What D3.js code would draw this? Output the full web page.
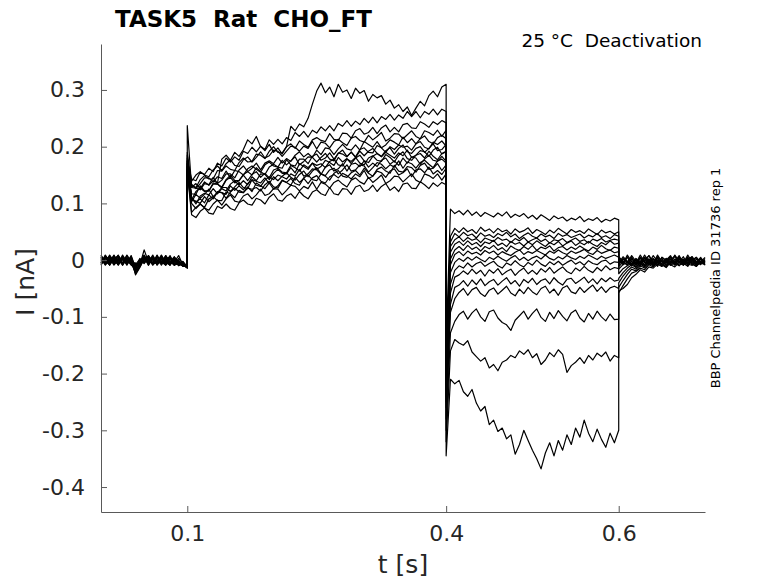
<!DOCTYPE html>
<html>
<head>
<meta charset="utf-8">
<script src="https://cdn.jsdelivr.net/npm/d3@7"></script>
<style>
  body { margin: 0; background: #fff; }
  svg { display: block; font-family: "DejaVu Sans", sans-serif; }
  text { white-space: pre; }
</style>
</head>
<body>
<div id="chart"></div>
<script>
// sweeps are recorded in pA, plotted in nA
// each sweep is split in 4 segments: holding, activation step, tail step, back to holding
var sampleStep = 0.005;
var xTicks = [0.1, 0.4, 0.6];
var yTicks = [0.3, 0.2, 0.1, 0, -0.1, -0.2, -0.3, -0.4];

// holding, t = 0 .. 0.1 s
var baseline = [
  [5,-4,8,-7,2,-5,9,-2,-24,-12,3,-6,2,-5,8,-3,-9,5,-6,-10,-12],
  [-6,9,-2,5,-8,3,-5,7,-18,-9,18,-3,6,-8,3,-5,2,-9,-3,-11,-7],
  [2,-8,5,-3,9,-6,0,-9,-14,3,-5,8,-2,-6,5,-9,3,-5,-8,-2,-13],
  [-9,3,-5,8,-2,6,-8,3,-10,-5,6,-9,3,-2,-6,8,-5,0,-9,-6,-10],
  [6,-2,-8,3,-5,9,-3,5,-26,-13,2,5,-8,6,-3,-9,5,-2,-6,-11,-9],
  [-3,6,-9,2,8,-5,3,-6,-5,-9,5,-3,9,-5,2,-8,-3,6,-10,-5,-13],
  [8,-5,3,-9,0,5,-6,2,-20,-6,-2,8,-5,3,-9,2,6,-6,-3,-9,-11],
  [-5,2,6,-6,3,-9,5,-3,-8,2,-6,3,-9,5,-2,-5,8,-8,0,-10,-12],
  [3,-9,0,5,-8,2,-5,8,-13,-3,9,-5,2,-8,6,-2,-9,3,-5,-8,-14],
  [-8,5,-3,9,-6,0,3,-8,-6,-11,3,-2,6,-9,0,5,-6,-3,8,-9,-10],
  [0,-6,9,-2,5,-8,2,-5,-22,-10,6,-9,5,0,-5,8,-3,-9,3,-6,-13],
  [9,-3,-6,2,-9,6,-2,3,-11,-5,0,6,-8,-3,9,-6,2,-5,-9,-3,-11],
  [-2,5,-9,6,-3,-6,8,-5,-16,0,-3,2,-6,8,-5,3,-8,5,-2,-9,-12],
  [5,-6,2,-5,8,-9,3,0,-9,-8,5,-5,3,-6,2,-3,6,-9,-5,-8,-14],
  [-5,8,-3,0,-8,3,-9,5,-17,-3,8,-2,-5,9,-6,0,-8,2,-6,-10,-11]
];

// activation step, t = 0.1 .. 0.4 s
var activation = [
  [237,128,135,126,138,132,140,136,178,185,176,190,183,195,212,205,218,200,193,204,190,198,187,200,236,228,240,235,250,275,298,312,295,305,288,310,296,300,285,303,294,299,280,292,286,290,275,282,268,274,262,270,255,268,280,272,290,298,288,305,310],
  [175,143,140,155,151,162,156,171,166,180,173,182,176,192,188,199,191,201,195,212,204,213,205,216,211,225,218,227,217,229,224,235,228,237,228,241,236,246,236,245,239,250,242,252,242,253,248,257,247,256,250,262,253,262,251,262,257,266,256,266,262],
  [190,132,128,142,149,143,143,158,157,166,160,158,172,180,173,174,187,185,179,192,200,190,189,200,205,197,210,204,199,212,216,211,209,223,213,211,224,223,215,228,232,222,225,234,223,233,238,226,234,226,239,241,233,232,244,240,234,244,239,246,242],
  [165,139,150,156,150,147,159,166,158,170,177,167,165,177,182,173,181,191,180,184,194,192,183,192,201,199,192,201,197,209,196,208,206,198,209,213,207,202,215,218,211,208,220,212,218,225,210,215,223,222,214,221,228,218,214,228,225,220,229,218,229],
  [180,128,127,124,135,133,146,135,141,152,152,145,159,166,156,162,171,159,171,175,170,181,171,179,174,185,191,182,188,181,194,186,198,196,186,196,204,196,194,203,194,209,204,199,209,198,203,212,208,203,217,207,214,205,214,219,209,205,216,220,214],
  [170,106,121,127,121,122,136,134,129,142,150,140,140,151,156,150,163,156,151,164,169,164,162,177,168,166,178,178,170,183,187,176,180,189,178,188,194,183,190,182,195,198,190,189,202,198,190,200,195,203,199,201,194,205,209,199,196,208,204,210,201],
  [160,134,126,135,145,145,138,147,144,157,145,158,156,150,161,166,160,155,168,173,166,164,176,168,175,182,168,174,182,181,173,181,188,178,175,189,187,182,191,181,192,184,192,197,188,183,193,198,187,197,203,191,188,197,200,190,197,205,193,195,204],
  [185,110,99,113,118,115,126,117,126,122,134,140,132,140,133,147,140,152,151,142,153,160,153,152,163,154,170,165,160,171,160,165,176,172,167,181,173,179,170,180,185,175,172,183,188,182,190,185,180,189,184,194,181,185,193,191,183,194,199,187,191],
  [155,117,116,131,122,122,134,134,127,141,146,136,140,150,140,151,156,146,153,145,159,162,155,154,167,163,157,168,163,171,167,170,163,174,178,168,166,178,174,181,171,168,180,184,176,174,186,181,173,185,191,179,176,185,188,180,192,183,177,188,192],
  [175,106,104,100,112,103,110,121,119,116,131,123,131,124,135,141,132,130,141,147,142,150,147,143,152,148,160,148,152,161,159,151,164,168,157,161,170,157,169,171,165,175,164,171,165,176,180,169,175,167,180,171,182,180,169,178,185,176,174,183,174],
  [165,103,116,109,116,125,112,119,128,128,121,129,137,128,126,142,139,136,145,135,147,140,148,154,146,141,151,157,147,157,163,152,149,159,162,152,159,168,157,159,168,166,155,163,172,169,161,168,164,175,162,173,170,162,172,176,169,163,175,178,171],
  [150,100,91,99,93,108,112,105,105,120,117,110,123,119,127,125,128,122,133,139,129,127,140,137,144,135,132,145,150,142,140,152,148,141,153,158,148,146,154,158,150,162,153,148,160,164,157,153,167,157,155,165,163,155,167,171,160,162,170,158,168],
  [170,110,102,108,101,115,108,120,119,109,120,127,120,119,129,121,136,131,126,136,125,131,141,137,132,146,137,144,135,145,149,139,136,147,151,145,153,149,143,152,147,158,144,148,157,154,146,157,161,150,154,161,147,159,161,154,164,152,158,151,162],
  [160,84,93,99,92,88,99,106,97,108,115,104,102,113,117,108,115,125,114,117,126,125,115,123,132,130,122,130,126,138,125,137,134,127,137,141,134,129,141,145,138,134,146,137,143,150,135,140,148,147,138,145,152,141,137,152,149,144,152,141,152],
  [155,80,75,86,92,83,81,95,91,99,91,88,101,106,99,97,109,106,99,111,117,106,104,113,117,109,121,113,108,120,124,117,114,128,117,115,126,125,116,129,132,121,124,132,121,130,135,123,129,121,134,136,127,126,138,133,126,136,130,137,133]
];

// deactivation (tail) step, t = 0.4 .. 0.6 s
var tail = [
  [-150,90,82,87,80,88,79,85,77,84,80,76,83,78,85,75,81,77,82,74,79,72,80,75,70,78,73,76,69,74,71,77,68,73,70,75,67,72,69,74,71],
  [-200,42,56,49,57,50,54,47,58,51,55,48,56,50,53,46,55,49,52,57,47,54,50,45,53,48,56,51,46,54,49,52,47,55,50,45,53,48,51,46,50],
  [-180,32,47,41,49,43,46,39,48,42,45,40,47,43,49,41,46,38,44,48,42,39,46,41,44,38,47,42,45,40,43,46,39,44,41,47,40,43,38,45,42],
  [-220,24,36,41,33,40,35,38,31,39,36,33,40,35,37,31,38,34,40,32,36,39,33,37,30,36,34,38,31,35,39,33,36,30,37,34,38,32,35,37,35],
  [-160,14,28,33,26,34,27,31,24,32,29,35,26,30,24,33,28,31,25,32,27,34,29,24,31,27,33,25,30,34,26,31,27,33,28,24,31,27,34,28,30],
  [-240,2,18,24,17,26,19,23,16,24,20,26,18,22,15,25,20,17,24,19,26,17,23,20,25,16,22,24,18,23,19,25,20,16,23,19,26,20,17,23,21],
  [-190,-8,10,15,8,16,11,14,9,17,12,16,9,15,11,8,14,18,10,15,12,17,13,9,16,12,18,13,10,16,12,15,19,13,10,17,12,15,18,13,15],
  [-210,-22,-4,3,-2,5,0,6,1,-3,5,1,7,2,-2,4,8,0,5,-1,4,7,2,9,3,0,6,2,8,4,1,7,3,9,5,1,7,3,6,9,5],
  [-230,-42,-18,-10,-14,-5,-12,-6,-3,-11,-6,-2,-10,-14,-5,-9,-1,-8,-12,-4,-9,0,-7,-11,-3,-8,-2,-9,-4,0,-7,-3,-9,-1,-6,-8,-2,0,-7,-3,-4],
  [-260,-58,-30,-26,-19,-25,-16,-24,-18,-28,-17,-23,-15,-26,-20,-16,-27,-19,-14,-24,-18,-25,-15,-21,-13,-23,-17,-12,-20,-24,-14,-19,-11,-18,-22,-13,-19,-10,-17,-13,-15],
  [-250,-78,-48,-44,-36,-46,-35,-43,-33,-45,-38,-34,-44,-37,-31,-42,-36,-46,-34,-40,-32,-43,-36,-33,-42,-31,-39,-44,-34,-32,-41,-36,-30,-40,-33,-42,-32,-38,-31,-37,-35],
  [-280,-92,-68,-57,-50,-62,-52,-48,-59,-64,-53,-49,-60,-53,-46,-58,-63,-51,-59,-48,-56,-61,-50,-46,-58,-51,-62,-49,-45,-56,-59,-48,-57,-50,-44,-55,-47,-57,-49,-46,-50],
  [-300,-128,-108,-96,-90,-104,-93,-86,-100,-108,-91,-88,-102,-110,-114,-124,-106,-98,-90,-104,-94,-86,-101,-108,-92,-103,-89,-99,-107,-93,-88,-102,-109,-94,-104,-90,-100,-107,-95,-105,-104],
  [-320,-160,-140,-146,-150,-142,-162,-170,-178,-172,-190,-184,-195,-180,-176,-168,-172,-160,-166,-158,-172,-165,-184,-176,-163,-170,-158,-166,-198,-186,-180,-172,-182,-168,-176,-164,-170,-162,-178,-168,-172],
  [-345,-210,-218,-212,-232,-240,-228,-252,-266,-258,-290,-282,-302,-296,-315,-308,-342,-325,-300,-318,-335,-350,-368,-340,-322,-345,-318,-335,-308,-325,-296,-312,-282,-305,-320,-298,-316,-330,-305,-322,-300]
];

// back to holding, t = 0.6 .. 0.7 s
var post = [
  [6,-3,5,-8,2,-5,9,-2,-6,3,-9,0,5,-3,8,-5,-2,6,-8,2,-3],
  [-9,3,-5,8,-2,-11,5,0,-6,9,-3,-8,2,6,-5,-9,3,-2,5,-6,0],
  [2,-8,6,-3,-9,5,-2,8,-5,0,-11,3,-6,9,-2,-5,6,-9,2,-3,5],
  [-5,6,-2,-9,3,-6,0,8,-3,-11,5,-2,6,-8,2,-5,9,-3,-6,3,-2],
  [3,-6,9,-2,-8,5,-5,2,-9,6,-3,0,8,-6,3,-2,-8,5,-5,2,-9],
  [-8,2,-3,6,-9,0,5,-5,8,-2,-6,3,-9,2,-3,6,-8,0,5,-5,-2],
  [5,-2,-8,3,-5,9,-3,-6,2,-9,5,0,-5,8,-3,-8,2,6,-6,3,-5],
  [-12,-3,-9,2,-6,5,-11,-2,3,-8,0,-5,6,-9,-3,2,-6,5,-2,-8,3],
  [-16,-8,-4,-10,0,-6,3,-8,-2,5,-9,-3,2,-6,6,-5,-11,0,-3,5,-8],
  [-24,-15,-10,-5,-12,-2,-8,2,-7,-4,3,-10,-2,-6,5,-9,0,-5,-11,2,-3],
  [-32,-22,-14,-8,-13,-5,-10,-2,-8,0,-7,-12,-1,-6,3,-8,-4,2,-10,-3,-6],
  [-40,-28,-19,-12,-16,-7,-12,-4,-9,-1,-7,-11,-3,-8,2,-6,-10,0,-4,-7,-2],
  [-48,-36,-25,-16,-19,-10,-14,-6,-10,-2,-8,-13,-4,-1,-9,-5,3,-7,-11,-3,-5],
  [-58,-45,-33,-23,-20,-14,-17,-8,-12,-4,-10,-2,-8,-12,-4,0,-7,-9,-3,-5,-8],
  [-54,-50,-43,-31,-25,-17,-21,-12,-14,-7,-11,-4,-9,-5,-10,-1,-6,-3,-8,-4,-5]
];

// segment start times (s), sample grid follows sampleStep
var segStart = [0, 0.1, 0.4, 0.6];

var width = 778, height = 583;
var margin = {top: 44, right: 73, bottom: 71, left: 101};

var svg = d3.select("#chart").append("svg")
    .attr("width", width)
    .attr("height", height);

var x = d3.scaleLinear()
    .domain([0, 0.7])
    .range([margin.left, width - margin.right]);

var y = d3.scaleLinear()
    .domain([-0.444, 0.381])
    .range([height - margin.bottom, margin.top]);

// join the four segments of one sweep into [t, I] points
function sweepPoints(i) {
  var pts = [];
  [baseline[i], activation[i], tail[i], post[i]].forEach(function(seg, s) {
    seg.forEach(function(v, k) {
      pts.push([segStart[s] + k * sampleStep, v / 1000]);
    });
  });
  return pts;
}

var line = d3.line()
    .x(function(d) { return x(d[0]); })
    .y(function(d) { return y(d[1]); });

var sweeps = d3.range(baseline.length).map(sweepPoints);

svg.append("g")
  .selectAll("path")
  .data(sweeps)
  .enter().append("path")
    .attr("d", line)
    .attr("fill", "none")
    .attr("stroke", "#000")
    .attr("stroke-width", 1.2)
    .attr("stroke-linejoin", "round");

// axes, matlab style: ticks pointing inside
var xAxis = svg.append("g")
    .attr("transform", "translate(0," + (height - margin.bottom) + ")")
    .call(d3.axisBottom(x).tickValues(xTicks).tickSize(-6).tickSizeOuter(0).tickPadding(13)
      .tickFormat(function(d) { return d; }));

var yAxis = svg.append("g")
    .attr("transform", "translate(" + margin.left + ",0)")
    .call(d3.axisLeft(y).tickValues(yTicks).tickSize(-6).tickSizeOuter(0).tickPadding(16)
      .tickFormat(function(d) { return d; }));

[xAxis, yAxis].forEach(function(g) {
  g.selectAll(".domain, .tick line").attr("stroke", "#595959").attr("stroke-width", 1);
  g.selectAll(".tick text")
    .attr("fill", "#262626")
    .style("font-family", "DejaVu Sans")
    .style("font-size", "22px");
});

// axis labels
svg.append("text")
    .attr("x", (margin.left + width - margin.right) / 2)
    .attr("y", 573)
    .attr("text-anchor", "middle")
    .attr("fill", "#262626")
    .style("font-size", "25px")
    .text("t [s]");

svg.append("text")
    .attr("transform", "translate(34,282) rotate(-90)")
    .attr("text-anchor", "middle")
    .attr("fill", "#262626")
    .style("font-size", "25px")
    .text("I [nA]");

// titles
svg.append("text")
    .attr("x", 115)
    .attr("y", 27)
    .attr("fill", "#000")
    .style("font-weight", "bold")
    .style("font-size", "23px")
    .text("TASK5  Rat  CHO_FT");

svg.append("text")
    .attr("x", 702)
    .attr("y", 47)
    .attr("text-anchor", "end")
    .attr("fill", "#000")
    .style("font-size", "18.5px")
    .text("25 °C  Deactivation");

svg.append("text")
    .attr("transform", "translate(720,278) rotate(-90)")
    .attr("text-anchor", "middle")
    .attr("fill", "#000")
    .style("font-size", "13px")
    .text("BBP Channelpedia ID 31736 rep 1");
</script>
</body>
</html>
